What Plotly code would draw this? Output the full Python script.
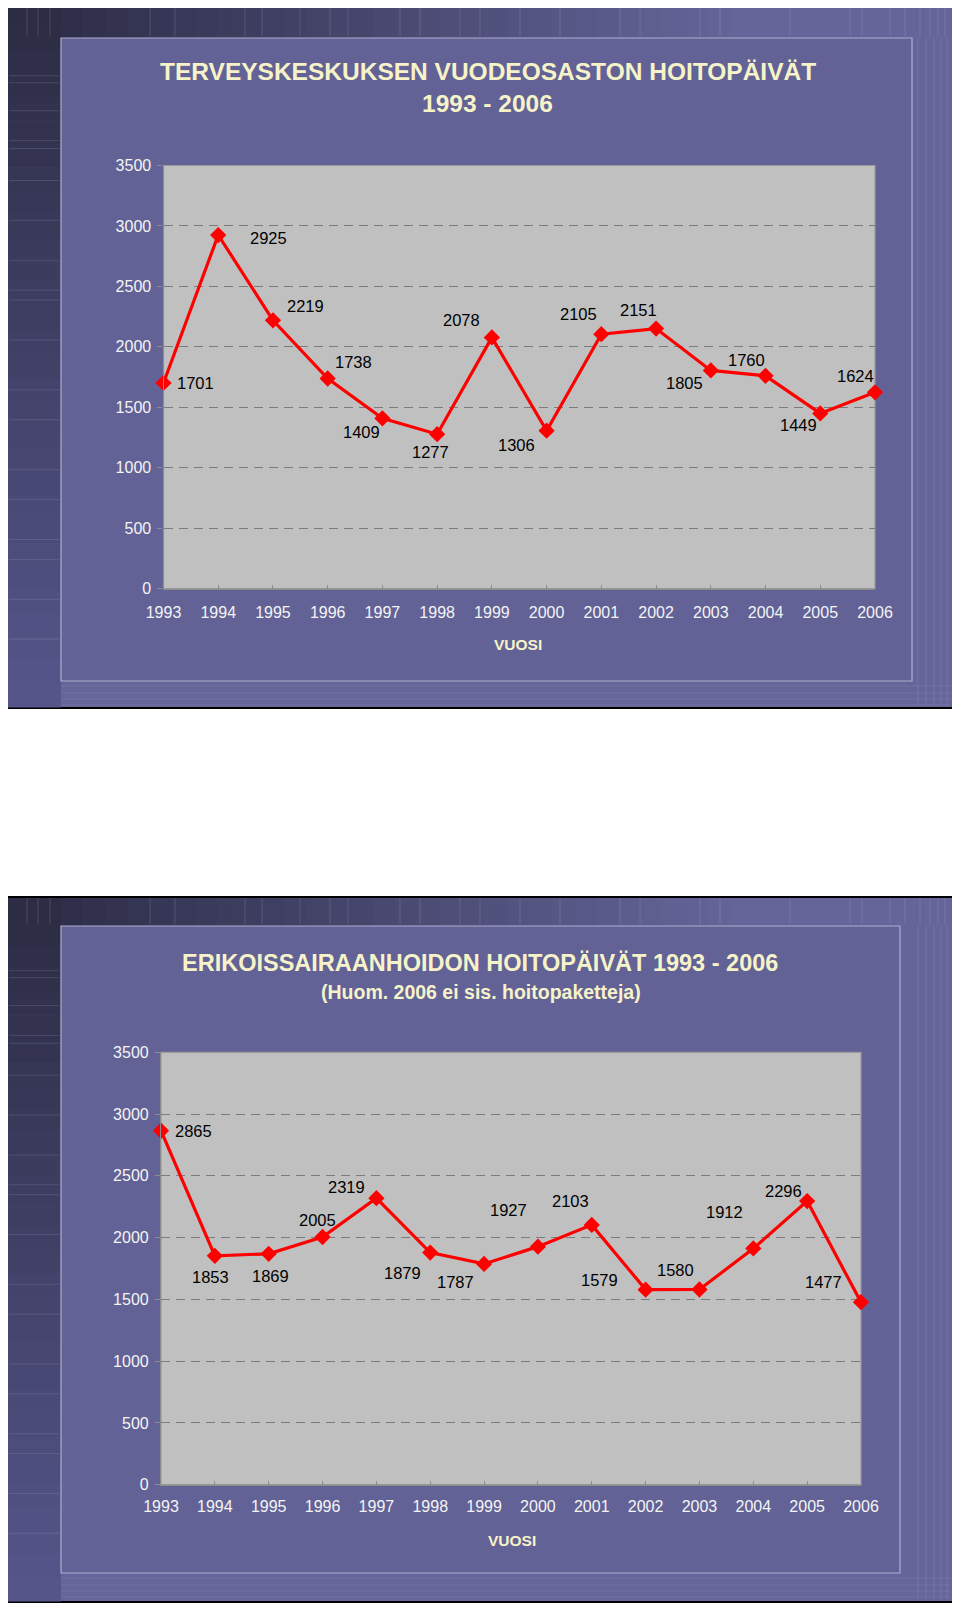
import plotly.graph_objects as go

# ---------------- data ----------------
years = list(range(1993, 2007))
year_labels = [str(y) for y in years]
tk_values = [1701, 2925, 2219, 1738, 1409, 1277, 2078, 1306, 2105, 2151, 1805, 1760, 1449, 1624]
es_values = [2865, 1853, 1869, 2005, 2319, 1879, 1787, 1927, 2103, 1579, 1580, 1912, 2296, 1477]
y_ticks = [0, 500, 1000, 1500, 2000, 2500, 3000, 3500]
tk_title = ["TERVEYSKESKUKSEN VUODEOSASTON HOITOPÄIVÄT", "1993 - 2006"]
es_title = ["ERIKOISSAIRAANHOIDON HOITOPÄIVÄT 1993 - 2006", "(Huom. 2006 ei sis. hoitopaketteja)"]
x_title = "VUOSI"

# label offsets in pixels (styling only)
tk_dx = [32, 50, 33, 26, -21, -7, -30, -30, -23, -18, -26, -19, -22, -20]
tk_dy = [0, -3, 14, 16, -14, -18, 17, -14, 20, 19, -13, 16, -12, 16]
es_dx = [32, -4, 2, -5, -30, -28, -29, -29, -21, -46, -24, -29, -24, -38]
es_dy = [0, -21, -22, 17, 11, -20, -18, 37, 24, 10, 20, 36, 10, 20]

# page body has an 8px margin: work in screen pixels and convert
OFF = 8
W, H = 960 - OFF, 1610 - OFF
FONT = "Liberation Sans, Arial, sans-serif"
LAV = "#65659a"
PANEL = "#626296"
PLOTBG = "#c0c0c0"
CREAM = "#f7f3c9"
TICKC = "#f4f4f4"
RED = "#ff0000"


def px(x):
    return (x - OFF) / W


def py(y):
    return 1 - (y - OFF) / H


def rect(x0, y0, x1, y1, fill, line=None, lw=0, layer="below"):
    d = dict(type="rect", xref="paper", yref="paper",
             x0=px(x0), x1=px(x1), y0=py(y1), y1=py(y0),
             fillcolor=fill, layer=layer, line=dict(width=lw, color=line or fill))
    return d


def seg(x0, y0, x1, y1, color, lw=1):
    return dict(type="line", xref="paper", yref="paper",
                x0=px(x0), x1=px(x1), y0=py(y0), y1=py(y1),
                layer="below", line=dict(width=lw, color=color))


def hx(c):
    c = c.lstrip("#")
    return [int(c[i:i + 2], 16) for i in (0, 2, 4)]


def mix(a, b, t):
    a, b = hx(a), hx(b)
    return "#%02x%02x%02x" % tuple(int(round(a[i] + (b[i] - a[i]) * t)) for i in range(3))


shapes = []


def frame(fy0, fy1, pan, plot):
    fx0, fx1 = 6, 954
    px0, py0, px1, py1 = pan
    shapes.append(rect(fx0, fy0, fx1, fy1, "#000000"))
    shapes.append(rect(fx0 + 2, fy0 + 2, fx1 - 2, fy1 - 2, LAV))
    # left column vertical gradient
    n = 30
    top, bot = fy0 + 2, fy1 - 2
    for i in range(n):
        a = top + (bot - top) * i / n
        b = top + (bot - top) * (i + 1) / n + 0.5
        shapes.append(rect(fx0 + 2, a, px0, b, mix("#2c2c44", "#55558a", i / (n - 1))))
    # top strip horizontal gradient
    n = 40
    for i in range(n):
        a = px0 + (fx1 - 2 - px0) * i / n
        b = px0 + (fx1 - 2 - px0) * (i + 1) / n + 0.5
        t = min(1.0, i / (n * 0.75))
        shapes.append(rect(a, fy0 + 2, b, py0, mix("#2f2f4b", LAV, t)))
    # decorative thin lines
    for x in [27, 38, 50, 150, 175, 245, 262, 300, 330, 348, 400, 420, 460, 480, 520, 560, 620,
              640, 700, 720, 790, 850, 862, 890, 905, 920, 930, 938, 945]:
        shapes.append(seg(x, fy0 + 2, x, py0 - 2, "rgba(200,200,235,0.18)"))
    for x in [918, 926, 934, 941, 947]:
        shapes.append(seg(x, py0, x, fy1 - 4, "rgba(200,200,235,0.15)"))
    for y in [75, 82, 110, 140, 148, 180, 220, 260, 290, 300, 340, 390, 420, 470, 500, 540,
              560, 600, 640]:
        yy = fy0 + y * (fy1 - fy0) / 710
        shapes.append(seg(fx0 + 3, yy, px0 - 2, yy, "rgba(200,200,235,0.16)"))
    for y in [5, 12, 18, 24]:
        shapes.append(seg(px0, py1 + y, fx1 - 4, py1 + y, "rgba(200,200,235,0.12)"))
    # panel
    shapes.append(rect(px0, py0, px1, py1, PANEL, "#aeaed0", 1.2))
    # plot area
    x0, y0, x1, y1 = plot
    shapes.append(rect(x0, y0, x1, y1, PLOTBG))
    shapes.append(dict(type="rect", xref="paper", yref="paper",
                       x0=px(x0), x1=px(x1), y0=py(y1), y1=py(y0),
                       fillcolor="rgba(0,0,0,0)", layer="between",
                       line=dict(width=1.2, color="#9a9a9a")))


TOP_PLOT = (163.5, 165.5, 875, 588.6)
BOT_PLOT = (161, 1052.3, 861, 1484.7)
frame(1, 709, (61, 38, 912, 681), TOP_PLOT)
frame(896, 1603, (61, 926, 900, 1573), BOT_PLOT)

fig = go.Figure()
for vals, xa, ya in [(tk_values, "x", "y"), (es_values, "x2", "y2")]:
    fig.add_trace(go.Scatter(
        x=years, y=vals, xaxis=xa, yaxis=ya, mode="lines+markers",
        line=dict(color=RED, width=3.2),
        marker=dict(symbol="diamond", size=12.5, color=RED, line=dict(width=0)),
        cliponaxis=False, showlegend=False, hoverinfo="skip"))

ann = []
for vals, dxs, dys, xr, yr in [(tk_values, tk_dx, tk_dy, "x", "y"),
                               (es_values, es_dx, es_dy, "x2", "y2")]:
    for yr_, v, dx, dy in zip(years, vals, dxs, dys):
        ann.append(dict(x=yr_, y=v, xref=xr, yref=yr, text=str(v), showarrow=False,
                        xshift=dx, yshift=dy, xanchor="center", yanchor="middle",
                        font=dict(family=FONT, size=16.5, color="#000000")))

# titles
ann.append(dict(x=px(488), y=py(72), xref="paper", yref="paper", text="<b>%s</b>" % tk_title[0],
                showarrow=False, xanchor="center", yanchor="middle",
                font=dict(family=FONT, size=24.5, color=CREAM)))
ann.append(dict(x=px(487), y=py(103), xref="paper", yref="paper", text="<b>%s</b>" % tk_title[1],
                showarrow=False, xanchor="center", yanchor="middle",
                font=dict(family=FONT, size=24.5, color=CREAM)))
ann.append(dict(x=px(480), y=py(963), xref="paper", yref="paper", text="<b>%s</b>" % es_title[0],
                showarrow=False, xanchor="center", yanchor="middle",
                font=dict(family=FONT, size=23.5, color=CREAM)))
ann.append(dict(x=px(481), y=py(992), xref="paper", yref="paper", text="<b>%s</b>" % es_title[1],
                showarrow=False, xanchor="center", yanchor="middle",
                font=dict(family=FONT, size=19.5, color=CREAM)))
ann.append(dict(x=px(518), y=py(644), xref="paper", yref="paper", text="<b>%s</b>" % x_title,
                showarrow=False, xanchor="center", yanchor="middle",
                font=dict(family=FONT, size=15.5, color=CREAM)))
ann.append(dict(x=px(512), y=py(1540), xref="paper", yref="paper", text="<b>%s</b>" % x_title,
                showarrow=False, xanchor="center", yanchor="middle",
                font=dict(family=FONT, size=15.5, color=CREAM)))


def xax(plot, anchor, standoff):
    return dict(domain=[px(plot[0]), px(plot[2])], range=[1993, 2006], anchor=anchor,
                tickmode="array", tickvals=years, ticktext=year_labels, automargin=False,
                showgrid=False, zeroline=False, showline=True, linecolor="#8c8c8c", linewidth=1.2,
                ticks="inside", ticklen=4, tickcolor="#8c8c8c",
                tickfont=dict(family=FONT, size=16, color=TICKC),
                ticklabelstandoff=standoff, fixedrange=True)


def yax(plot, anchor):
    return dict(domain=[py(plot[3]), py(plot[1])], range=[0, 3500], anchor=anchor,
                tickmode="array", tickvals=y_ticks, ticktext=[str(v) for v in y_ticks],
                automargin=False,
                showgrid=True, gridcolor="#7c7c7c", gridwidth=1, griddash="9px,6px",
                zeroline=False, showline=True, linecolor="#8c8c8c", linewidth=1.2,
                ticks="outside", ticklen=5, tickcolor="#8c8c8c",
                tickfont=dict(family=FONT, size=16, color=TICKC),
                ticklabelstandoff=3, fixedrange=True)


fig.update_layout(
    template="none",
    width=W, height=H, margin=dict(l=0, r=0, t=0, b=0, pad=0, autoexpand=False),
    paper_bgcolor="#ffffff", plot_bgcolor="rgba(0,0,0,0)",
    xaxis=xax(TOP_PLOT, "y", 9), yaxis=yax(TOP_PLOT, "x"),
    xaxis2=xax(BOT_PLOT, "y2", 7), yaxis2=yax(BOT_PLOT, "x2"),
    shapes=shapes, annotations=ann, showlegend=False,
    font=dict(family=FONT),
)

fig.write_html("out.html")
